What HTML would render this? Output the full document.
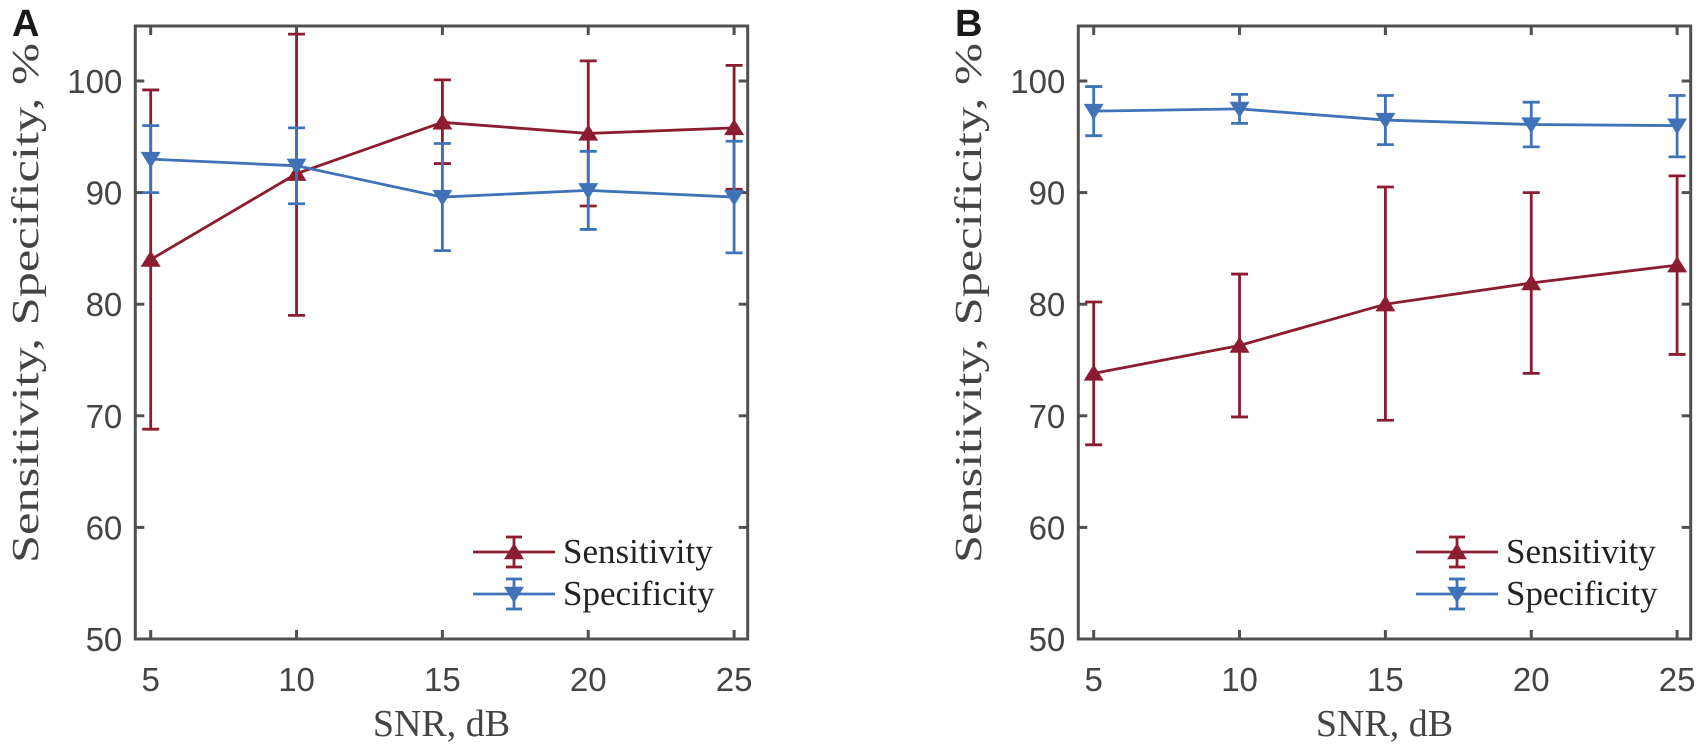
<!DOCTYPE html>
<html><head><meta charset="utf-8"><style>
html,body{margin:0;padding:0;background:#fff;}
svg{display:block;}
</style></head><body>
<svg id="s" width="1700" height="749" xmlns="http://www.w3.org/2000/svg"></svg>
<script>
const NS="http://www.w3.org/2000/svg";
const s=document.getElementById('s');
function el(t,a,txt){const e=document.createElementNS(NS,t);for(const k in a)e.setAttribute(k,a[k]);if(txt!==undefined)e.textContent=txt;s.appendChild(e);return e;}
const RED="#8C1C2F",BLUE="#4072B8",AX="#505050",LW=2.8;
function panel(off,letter,sens,spec){
  const L=135.3+off,R=747.7+off,T=26,B=639;
  const X=v=>150.7+off+(v-5)*29.17;
  const Y=v=>639-(v-50)*11.16;
  el('text',{x:12+off,y:36,'font-family':'Liberation Sans, sans-serif','font-weight':'bold','font-size':38,fill:'#1a1a1a'},letter);
  for(let v=5;v<=25;v+=5){
    el('line',{x1:X(v),x2:X(v),y1:B,y2:B-9,stroke:AX,'stroke-width':3});
    el('line',{x1:X(v),x2:X(v),y1:T,y2:T+9,stroke:AX,'stroke-width':3});
    el('text',{x:X(v),y:691,'text-anchor':'middle','font-family':'Liberation Sans, sans-serif','font-size':33,fill:'#444'},v);
  }
  for(let v=50;v<=100;v+=10){
    el('line',{x1:L,x2:L+9,y1:Y(v),y2:Y(v),stroke:AX,'stroke-width':3});
    el('line',{x1:R,x2:R-9,y1:Y(v),y2:Y(v),stroke:AX,'stroke-width':3});
    el('text',{x:L-13,y:Y(v)+12,'text-anchor':'end','font-family':'Liberation Sans, sans-serif','font-size':33,fill:'#444'},v);
  }
  el('rect',{x:L,y:T,width:R-L,height:B-T,fill:'none',stroke:AX,'stroke-width':3});
  el('text',{x:(L+R)/2,y:736,'text-anchor':'middle','font-family':'Liberation Serif, serif','font-size':38,fill:'#444'},'SNR, dB');
  el('text',{transform:`translate(${38+off},303) rotate(-90)`,'text-anchor':'middle','font-family':'Liberation Serif, serif','font-size':38,fill:'#444',textLength:520,lengthAdjust:'spacingAndGlyphs'},'Sensitivity, Specificity, %');
  function marker(x,y,col,up){
    const h=9,w=10;
    const pts=up?`${x},${y-h} ${x-w},${y+h*0.8} ${x+w},${y+h*0.8}`:`${x},${y+h} ${x-w},${y-h*0.8} ${x+w},${y-h*0.8}`;
    el('polygon',{points:pts,fill:col});
  }
  function series(d,col,up){
    let pts=d.map(p=>X(p[0])+','+Y(p[1])).join(' ');
    el('polyline',{points:pts,fill:'none',stroke:col,'stroke-width':LW});
    d.forEach(p=>{
      const x=X(p[0]);
      el('line',{x1:x,x2:x,y1:Y(p[2]),y2:Y(p[3]),stroke:col,'stroke-width':LW});
      el('line',{x1:x-8.5,x2:x+8.5,y1:Y(p[2]),y2:Y(p[2]),stroke:col,'stroke-width':LW});
      el('line',{x1:x-8.5,x2:x+8.5,y1:Y(p[3]),y2:Y(p[3]),stroke:col,'stroke-width':LW});
      marker(x,Y(p[1]),col,up);
    });
  }
  series(sens,RED,true);
  series(spec,BLUE,false);
  const lx1=473+off,lx2=555+off,mx=514+off;
  [[552,RED,true,'Sensitivity'],[594,BLUE,false,'Specificity']].forEach(([y,c,up,t])=>{
    el('line',{x1:lx1,x2:lx2,y1:y,y2:y,stroke:c,'stroke-width':LW});
    el('line',{x1:mx,x2:mx,y1:y-15,y2:y+15,stroke:c,'stroke-width':LW});
    el('line',{x1:mx-8,x2:mx+8,y1:y-15,y2:y-15,stroke:c,'stroke-width':LW});
    el('line',{x1:mx-8,x2:mx+8,y1:y+15,y2:y+15,stroke:c,'stroke-width':LW});
    marker(mx,y,c,up);
    el('text',{x:563+off,y:y+11,'font-family':'Liberation Serif, serif','font-size':35,fill:'#222'},t);
  });
}
panel(0,'A',
 [[5,84,68.8,99.2],[10,91.7,79,104.2],[15,96.3,92.6,100.1],[20,95.3,88.8,101.8],[25,95.8,90.3,101.4]],
 [[5,93,90,96],[10,92.4,89,95.8],[15,89.6,84.8,94.4],[20,90.2,86.7,93.7],[25,89.6,84.6,94.6]]);
panel(943,'B',
 [[5,73.8,67.4,80.2],[10,76.3,69.9,82.7],[15,80,69.6,90.5],[20,81.9,73.8,90],[25,83.5,75.5,91.5]],
 [[5,97.3,95.1,99.5],[10,97.5,96.2,98.8],[15,96.5,94.3,98.7],[20,96.1,94.1,98.1],[25,96,93.2,98.7]]);
</script>
</body></html>
